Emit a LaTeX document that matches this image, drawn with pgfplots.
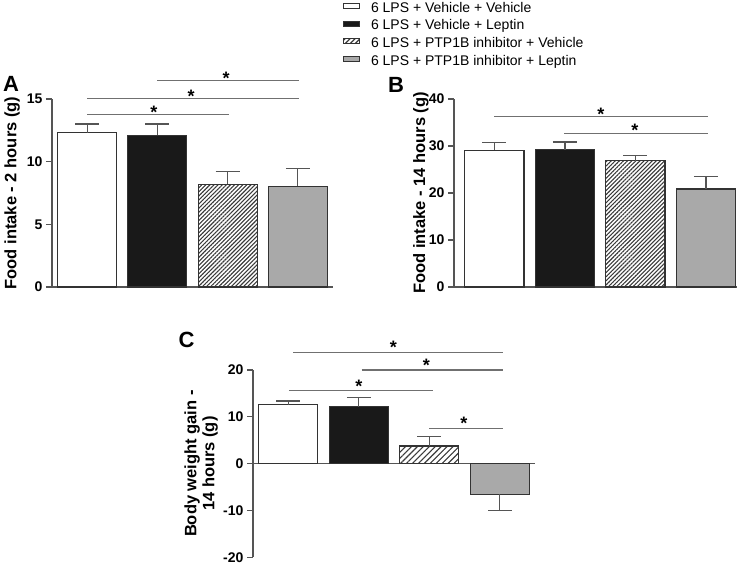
\documentclass[border=0pt]{standalone}
\usepackage{fontspec}
\setmainfont{Liberation Sans}
\usepackage{pgfplots}
\pgfplotsset{compat=1.18}
\usetikzlibrary{patterns.meta}
\definecolor{axc}{HTML}{555555}
\definecolor{barc}{HTML}{333333}
\definecolor{sigc}{HTML}{707070}
\definecolor{grayfill}{HTML}{A9A9A9}
\definecolor{hatchc}{HTML}{3A3A3A}
\pgfplotsset{
 panel/.style={scale only axis, anchor=south west, axis x line*=bottom, axis y line*=left, xtick=\empty, clip=false,
  axis line style={axc, line width=1.1bp}, tick style={axc, line width=1.1bp}, tick align=outside, major tick length=6bp,
  /pgf/number format/assume math mode=true,
  yticklabel style={font=\fontsize{14bp}{14bp}\selectfont\bfseries, text=black},
  ylabel style={font=\fontsize{16.5bp}{18bp}\selectfont\bfseries, anchor=center, align=center},
  error bars/y dir=plus, error bars/y explicit,
  error bars/error mark=|,
  error bars/error bar style={axc, line width=1.2bp},
  error bars/error mark options={mark size=12bp, axc, line width=1.2bp},
 },
 bw/.style={ybar, bar shift=0pt, bar width=0.84, draw=barc, line width=1.2bp, forget plot},
}
\tikzset{star/.style={font=\fontsize{18bp}{18bp}\selectfont\bfseries, anchor=base, inner sep=0pt},
 sigl/.style={sigc, line width=1.2bp}}
\begin{document}
\begin{tikzpicture}
\path[use as bounding box] (0,0) rectangle (742bp,-567bp);
% ---------------- Panel A
\begin{axis}[panel, at={(52bp,-287bp)}, width=281bp, height=188bp,
  xmin=0.5, xmax=4.5, ymin=0, ymax=15, ytick={0,5,10,15},
  ylabel={Food intake - 2 hours (g)}, ylabel style={at={(axis description cs:-0.142,0.5)}},
  legend style={at={(axis description cs:1.0356,1.521)}, anchor=north west, draw=none, fill=none,
    font=\fontsize{14bp}{14bp}\selectfont, inner sep=0pt, outer sep=0pt, row sep=2.7bp, column sep=10bp,
    nodes={inner sep=1bp, text height=10bp, text depth=3bp}},
  legend cell align=left,
  legend image code/.code={\draw[#1, line width=1bp] (0bp,0bp) rectangle (16bp,5bp);}]
\addlegendimage{fill=white, draw=barc}
\addlegendentry{6 LPS + Vehicle + Vehicle}
\addlegendimage{fill=black!90, draw=barc}
\addlegendentry{6 LPS + Vehicle + Leptin}
\addlegendimage{pattern={Lines[angle=45,distance=3.5bp,line width=1.2bp]}, pattern color=hatchc, draw=barc}
\addlegendentry{6 LPS + PTP1B inhibitor + Vehicle}
\addlegendimage{fill=grayfill, draw=barc}
\addlegendentry{6 LPS + PTP1B inhibitor + Leptin}
\addplot[bw, fill=white] coordinates {(1,12.3) +- (0,0.7)};
\addplot[bw, fill=black!90] coordinates {(2,12.1) +- (0,0.9)};
\addplot[bw, pattern={Lines[angle=45,distance=2.9bp,line width=1.1bp]}, pattern color=hatchc] coordinates {(3,8.2) +- (0,1.0)};
\addplot[bw, fill=grayfill] coordinates {(4,8.04) +- (0,1.4)};
\draw[sigl] (axis cs:1,13.78) -- (axis cs:3.02,13.78);
\draw[sigl] (axis cs:1,15.06) -- (axis cs:4.01,15.06);
\draw[sigl] (axis cs:2,16.5) -- (axis cs:4.01,16.5);
\node[star, yshift=-4.3bp] at (axis cs:1.95,13.78) {*};
\node[star, yshift=-4.3bp] at (axis cs:2.48,15.06) {*};
\node[star, yshift=-4.3bp] at (axis cs:2.98,16.5) {*};
\end{axis}
% ---------------- Panel B
\begin{axis}[panel, at={(454bp,-287bp)}, width=283bp, height=188bp,
  xmin=0.426, xmax=4.44, ymin=0, ymax=40, ytick={0,10,20,30,40},
  ylabel={Food intake - 14 hours (g)}, ylabel style={at={(axis description cs:-0.1166,0.5)}}]
\addplot[bw, fill=white] coordinates {(1,29.1) +- (0,1.6)};
\addplot[bw, fill=black!90] coordinates {(2,29.2) +- (0,1.65)};
\addplot[bw, pattern={Lines[angle=45,distance=2.9bp,line width=1.1bp]}, pattern color=hatchc] coordinates {(3,26.9) +- (0,1.0)};
\addplot[bw, fill=grayfill] coordinates {(4,20.85) +- (0,2.7)};
\draw[sigl] (axis cs:1,36.2) -- (axis cs:4.03,36.2);
\draw[sigl] (axis cs:1.99,32.7) -- (axis cs:4.03,32.7);
\node[star, yshift=-3.3bp] at (axis cs:2.51,36.2) {*};
\node[star, yshift=-3.3bp] at (axis cs:2.99,32.7) {*};
\end{axis}
% ---------------- Panel C
\begin{axis}[panel, at={(253bp,-557.3bp)}, width=282bp, height=187.3bp, axis x line*=middle,
  xmin=0.5, xmax=4.5, ymin=-20, ymax=20, ytick={-20,-10,0,10,20},
  ylabel={Body weight gain -\\14 hours (g)}, ylabel style={at={(axis description cs:-0.184,0.5)}}]
\addplot[bw, fill=white] coordinates {(1,12.6) +- (0,0.8)};
\addplot[bw, fill=black!90] coordinates {(2,12.2) +- (0,2.0)};
\addplot[bw, pattern={Lines[angle=45,distance=4.2bp,line width=1.1bp]}, pattern color=hatchc] coordinates {(3,3.78) +- (0,2.0)};
\addplot[bw, fill=grayfill, error bars/y dir=minus] coordinates {(4,-6.54) +- (0,3.42)};
\draw[sigl] (axis cs:1.07,23.8) -- (axis cs:4.05,23.8);
\draw[sigl] (axis cs:2.04,20.0) -- (axis cs:4.05,20.0);
\draw[sigl] (axis cs:1.01,15.7) -- (axis cs:3.06,15.7);
\draw[sigl] (axis cs:3.0,7.56) -- (axis cs:4.05,7.56);
\node[star, yshift=-1.3bp] at (axis cs:2.49,23.8) {*};
\node[star, yshift=-1.3bp] at (axis cs:2.96,20.0) {*};
\node[star, yshift=-2.5bp] at (axis cs:2.0,15.7) {*};
\node[star, yshift=-1.3bp] at (axis cs:3.49,7.56) {*};
\end{axis}
\node[font=\fontsize{22bp}{22bp}\selectfont\bfseries, inner sep=0pt] at (11bp,-84bp) {A};
\node[font=\fontsize{22bp}{22bp}\selectfont\bfseries, inner sep=0pt] at (396bp,-85bp) {B};
\node[font=\fontsize{22bp}{22bp}\selectfont\bfseries, inner sep=0pt] at (186.5bp,-339.5bp) {C};
\end{tikzpicture}
\end{document}
